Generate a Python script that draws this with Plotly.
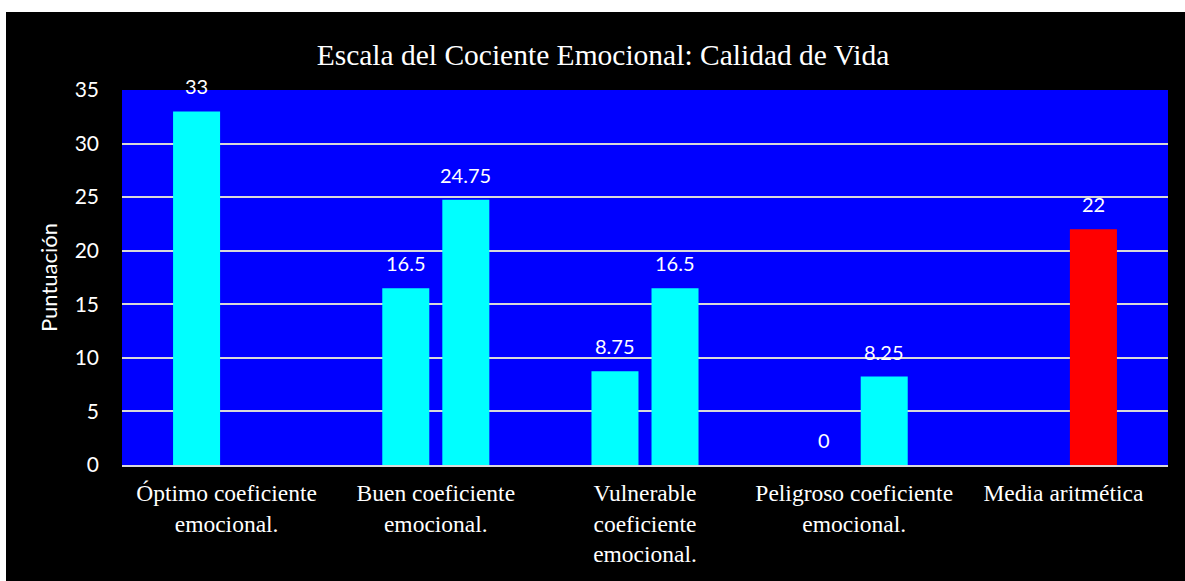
import plotly.graph_objects as go

categories = ["Óptimo coeficiente<br>emocional.", "Buen coeficiente<br>emocional.",
              "Vulnerable<br>coeficiente<br>emocional.", "Peligroso coeficiente<br>emocional.",
              "Media aritmética"]
serie1 = [33, 16.5, 8.75, 0, None]
serie2 = [None, 24.75, 16.5, 8.25, 22]
colores2 = ["#00FFFF", "#00FFFF", "#00FFFF", "#00FFFF", "#FF0000"]
y_ticks = [0, 5, 10, 15, 20, 25, 30, 35]

SANS = "Lato, Carlito, Calibri, sans-serif"
SERIF = "Liberation Serif, Times New Roman, serif"

fig = go.Figure()
fig.add_trace(go.Bar(x=categories, y=serie1, marker=dict(color="#00FFFF", line=dict(width=0)),
                     showlegend=False, hoverinfo="skip"))
fig.add_trace(go.Bar(x=categories, y=serie2, marker=dict(color=colores2, line=dict(width=0)),
                     showlegend=False, hoverinfo="skip"))

label_font = dict(family=SANS, size=20, color="white")
for serie, shift in ((serie1, -30), (serie2, 30)):
    for c, v in zip(categories, serie):
        if v is None:
            continue
        fig.add_annotation(x=c, y=v, text=f"{v:g}", showarrow=False, xshift=shift,
                           yshift=25, yanchor="middle", font=label_font)

# white outer border strips (top and left)
fig.add_shape(type="rect", xref="paper", yref="paper", x0=-0.2, x1=1.1,
              y0=(465 - 12) / 375, y1=1.4, fillcolor="white", line=dict(width=0))
fig.add_shape(type="rect", xref="paper", yref="paper", x0=-0.2, x1=(6 - 122) / 1046,
              y0=-0.5, y1=1.4, fillcolor="white", line=dict(width=0))

fig.update_layout(
    width=1185, height=581,
    margin=dict(l=122, r=17, t=90, b=116),
    paper_bgcolor="black", plot_bgcolor="#0000FF",
    barmode="group", bargap=0.426, bargroupgap=0.217,
    title=dict(text="Escala del Cociente Emocional: Calidad de Vida", x=603 / 1185, xanchor="center",
               y=(581 - 55) / 581, yanchor="middle",
               font=dict(family=SERIF, size=29.5, color="white")),
    xaxis=dict(tickfont=dict(family=SERIF, size=23.5, color="white"),
               showgrid=False, showline=True, linecolor="#D9D9D9", linewidth=2, ticks="",
               ticklabelstandoff=6),
    yaxis=dict(range=[0, 35], tickvals=y_ticks, showgrid=True, gridcolor="#D9D9D9", gridwidth=2,
               zeroline=False,
               tickfont=dict(family=SANS, size=21, color="white"),
               ticklabelstandoff=22,
               title=dict(text="Puntuación", standoff=10,
                          font=dict(family=SANS, size=22, color="white"))),
)

fig.write_html("out.html", config={"displayModeBar": False},
               post_script="document.body.style.margin='0';")
